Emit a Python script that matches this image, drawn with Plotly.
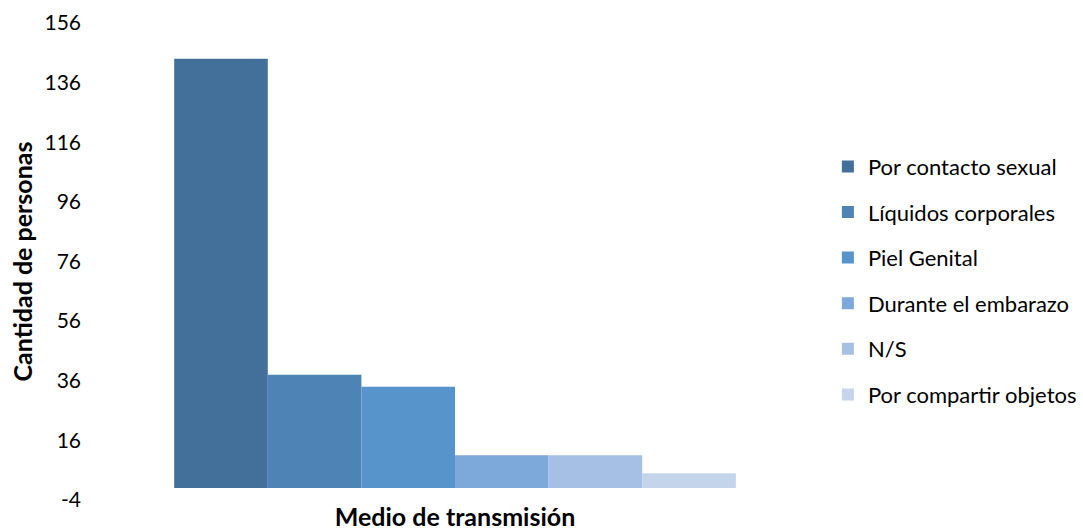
import plotly.graph_objects as go

# Transmission routes and number of people per route
categorias = [
    "Por contacto sexual",
    "Líquidos corporales",
    "Piel Genital",
    "Durante el embarazo",
    "N/S",
    "Por compartir objetos",
]
personas = [144, 38, 34, 11, 11, 5]
colores = ["#42709B", "#4D83B5", "#5794CB", "#7CA9D9", "#A5C0E4", "#C4D4EA"]

y_ticks = list(range(-4, 157, 20))

FONT = "Lato, 'Open Sans', sans-serif"

fig = go.Figure()
for i, (nombre, valor, color) in enumerate(zip(categorias, personas, colores)):
    fig.add_trace(
        go.Bar(
            x=["Medio de transmisión"],
            y=[valor],
            name=nombre,
            marker=dict(color=color, line=dict(width=0)),
            legendgroup=f"g{i}",
            hovertemplate=f"{nombre}: %{{y}}<extra></extra>",
        )
    )

fig.update_layout(
    width=1083,
    height=531,
    barmode="group",
    bargap=0.2,
    bargroupgap=0,
    plot_bgcolor="white",
    paper_bgcolor="white",
    font=dict(family=FONT, size=21, color="#000000"),
    margin=dict(l=104, r=277, t=23, b=31, autoexpand=False),
    legend=dict(
        x=1.393,
        xanchor="right",
        y=0.743,
        yanchor="top",
        tracegroupgap=14,
        font=dict(size=22, family=FONT),
        itemclick=False,
        itemdoubleclick=False,
    ),
    xaxis=dict(
        showticklabels=False,
        showgrid=False,
        showline=False,
        zeroline=False,
        ticks="",
        automargin=False,
        title=dict(
            text="<b>Medio de transmisión</b>",
            font=dict(size=25, family=FONT),
            standoff=19,
        ),
    ),
    yaxis=dict(
        range=[-4, 156],
        tickvals=y_ticks,
        ticktext=[str(v) for v in y_ticks],
        showgrid=False,
        showline=False,
        zeroline=False,
        ticks="",
        automargin=False,
        ticklabelstandoff=22,
        tickfont=dict(size=21, family=FONT),
        title=dict(
            text="<b>Cantidad de personas</b>",
            font=dict(size=25, family=FONT),
            standoff=4,
        ),
    ),
)

fig.write_html("out.html")
